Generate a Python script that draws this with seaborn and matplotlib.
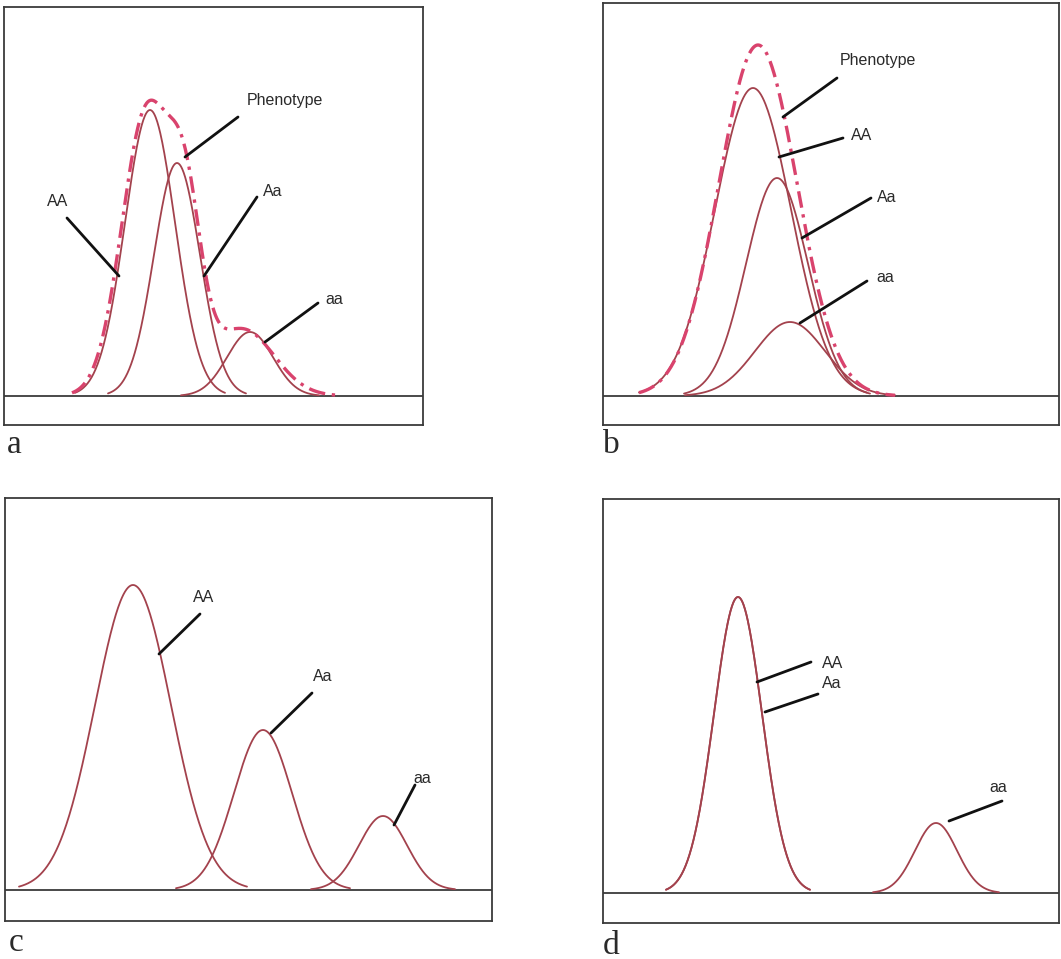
import numpy as np
import matplotlib
matplotlib.use("Agg")
import matplotlib.pyplot as plt
import seaborn as sns

sns.set_theme(style="white")
plt.rcParams['font.family'] = ['Liberation Sans', 'DejaVu Sans']

# genotype curves per panel: centre (x, px), peak height above baseline, sd
means_a = [150, 177, 250]
heights_a = [286, 233, 64]
sds_a = [25, 23, 23]
# phenotype curve drawn as a sum of bumps
pheno_means_a = [147, 186, 242]
pheno_heights_a = [285, 145, 67]
pheno_sds_a = [25, 16, 32]

means_b = [753, 777, 790]
heights_b = [308, 218, 74]
sds_b = [38, 31, 35]
pheno_means_b = [758]
pheno_heights_b = [351]
pheno_sds_b = [39]

means_c = [133, 263, 383]
heights_c = [305, 160, 74]
sds_c = [38, 29, 24]

means_d = [738, 738, 936]
heights_d = [296, 296, 70]
sds_d = [24, 24, 21]

# label text position and leader line (from, to), image pixels
labels_a = ["AA", "Phenotype", "Aa", "aa"]
label_xy_a = [(58, 202), (285, 100), (273, 192), (334, 300)]
leaders_a = [((67, 218), (119, 276)), ((238, 117), (185, 157)),
             ((257, 197), (204, 276)), ((318, 303), (265, 342))]

labels_b = ["Phenotype", "AA", "Aa", "aa"]
label_xy_b = [(878, 61), (862, 135), (887, 197), (885, 278)]
leaders_b = [((837, 78), (783, 117)), ((843, 138), (779, 157)),
             ((871, 198), (802, 238)), ((867, 281), (800, 323))]

labels_c = ["AA", "Aa", "aa"]
label_xy_c = [(204, 598), (323, 677), (422, 779)]
leaders_c = [((200, 614), (159, 654)), ((312, 693), (271, 733)),
             ((415, 785), (394, 825))]

labels_d = ["AA", "Aa", "aa"]
label_xy_d = [(833, 664), (832, 684), (998, 788)]
leaders_d = [((811, 662), (757, 682)), ((818, 694), (765, 712)),
             ((1002, 801), (949, 821))]

W, H = 1061, 959
CURVE = "#a3424d"
PHENO = "#d9436d"
INK = "#2a2a2a"

fig = plt.figure(figsize=(W / 100, H / 100), dpi=100)
fig.patch.set_facecolor("white")


def gauss(x, m, h, s):
    return h * np.exp(-0.5 * ((x - m) / s) ** 2)


def panel(box, baseline, letter, letter_xy, means, heights, sds,
          labels, label_xy, leaders, pheno=None):
    x0, y0, x1, y1 = box
    ax = fig.add_axes([x0 / W, 1 - y1 / H, (x1 - x0) / W, (y1 - y0) / H])
    ax.set_xlim(x0, x1)
    ax.set_ylim(y1, y0)
    ax.set_xticks([])
    ax.set_yticks([])
    for sp in ax.spines.values():
        sp.set_color("#3a3a3a")
        sp.set_linewidth(1.3)
    ax.axhline(baseline, color="#3a3a3a", lw=1.3)

    for m, h, s in zip(means, heights, sds):
        x = np.linspace(m - 3 * s, m + 3 * s, 300)
        sns.lineplot(x=x, y=baseline - gauss(x, m, h, s), ax=ax, color=CURVE,
                     lw=1.3, sort=False, estimator=None)

    if pheno is not None:
        pm, ph, ps = pheno
        lo = min(m - 3 * s for m, s in zip(means + pm, sds + ps))
        hi = max(m + 3 * s for m, s in zip(means + pm, sds + ps))
        x = np.linspace(lo, hi, 600)
        y = sum(gauss(x, m, h, s) for m, h, s in zip(pm, ph, ps))
        sns.lineplot(x=x, y=baseline - y, ax=ax, color=PHENO, lw=2.4,
                     sort=False, estimator=None, linestyle=(0, (5, 2, 1, 2)))

    for txt, (tx, ty), ((ax0, ay0), (ax1, ay1)) in zip(labels, label_xy, leaders):
        ax.text(tx, ty, txt, ha="center", va="center", fontsize=11.5, color=INK)
        ax.plot([ax0, ax1], [ay0, ay1], color="#111111", lw=2.0)

    fig.text(letter_xy[0] / W, 1 - letter_xy[1] / H, letter, fontsize=24,
             family=["Liberation Serif", "DejaVu Serif"], ha="left",
             va="baseline", color=INK)
    return ax


panel((4, 7, 423, 425), 396, "a", (7, 453), means_a, heights_a, sds_a,
      labels_a, label_xy_a, leaders_a,
      pheno=(pheno_means_a, pheno_heights_a, pheno_sds_a))
panel((603, 3, 1059, 425), 396, "b", (603, 453), means_b, heights_b, sds_b,
      labels_b, label_xy_b, leaders_b,
      pheno=(pheno_means_b, pheno_heights_b, pheno_sds_b))
panel((5, 498, 492, 921), 890, "c", (9, 951), means_c, heights_c, sds_c,
      labels_c, label_xy_c, leaders_c)
panel((603, 499, 1059, 923), 893, "d", (603, 954), means_d, heights_d, sds_d,
      labels_d, label_xy_d, leaders_d)

fig.savefig("out.png", dpi=100, facecolor="white")
